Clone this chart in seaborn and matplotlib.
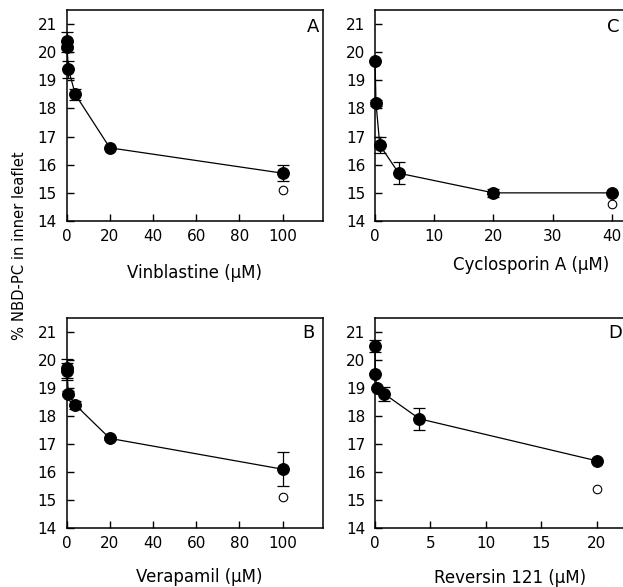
import numpy as np
import pandas as pd
import matplotlib
matplotlib.use("Agg")
import matplotlib.pyplot as plt
import seaborn as sns

# -----------------------------
# data
# -----------------------------
vin_x = [0, 0.16, 0.8, 4, 20, 100]
vin_y = [20.4, 20.2, 19.4, 18.5, 16.6, 15.7]
vin_err = [0.3, 0.2, 0.3, 0.2, 0.0, 0.28]
vin_open_x = [100]
vin_open_y = [15.1]

cyc_x = [0, 0.16, 0.8, 4, 20, 40]
cyc_y = [19.7, 18.2, 16.7, 15.7, 15.0, 15.0]
cyc_err = [0.0, 0.1, 0.3, 0.4, 0.15, 0.0]
cyc_open_x = [40]
cyc_open_y = [14.6]

ver_x = [0, 0.16, 0.8, 4, 20, 100]
ver_y = [19.7, 19.6, 18.8, 18.4, 17.2, 16.1]
ver_err = [0.35, 0.3, 0.1, 0.15, 0.05, 0.6]
ver_open_x = [100]
ver_open_y = [15.1]

rev_x = [0, 0.032, 0.16, 0.8, 4, 20]
rev_y = [20.5, 19.5, 19.0, 18.8, 17.9, 16.4]
rev_err = [0.2, 0.0, 0.0, 0.25, 0.4, 0.0]
rev_open_x = [20]
rev_open_y = [15.4]

sns.set_style("ticks", {"xtick.direction": "in", "ytick.direction": "in",
                        "axes.edgecolor": "black", "text.color": "black",
                        "axes.labelcolor": "black"})
plt.rcParams['font.family'] = ['DejaVu Sans']

fig = plt.figure(figsize=(6.23, 5.87), dpi=100)

panels = [
    # rect, x, y, err, open x, open y, xlim, xticks, xlabel, letter, label pos, letter pos
    ([0.107, 0.6235, 0.4114, 0.3595], vin_x, vin_y, vin_err, vin_open_x, vin_open_y,
     118.7, [0, 20, 40, 60, 80, 100], "Vinblastine (\u03bcM)", "A", (0.5, -0.205), (0.961, 0.919)),
    ([0.602, 0.6235, 0.399, 0.3595], cyc_x, cyc_y, cyc_err, cyc_open_x, cyc_open_y,
     42.0, [0, 10, 20, 30, 40], "Cyclosporin A (\u03bcM)", "C", (0.628, -0.165), (0.958, 0.919)),
    ([0.107, 0.1005, 0.4114, 0.3578], ver_x, ver_y, ver_err, ver_open_x, ver_open_y,
     118.7, [0, 20, 40, 60, 80, 100], "Verapamil (\u03bcM)", "B", (0.517, -0.19), (0.942, 0.929)),
    ([0.602, 0.1005, 0.399, 0.3578], rev_x, rev_y, rev_err, rev_open_x, rev_open_y,
     22.43, [0, 5, 10, 15, 20], "Reversin 121 (\u03bcM)", "D", (0.545, -0.195), (0.966, 0.929)),
]

for rect, x, y, err, ox, oy, xmax, xt, xlab, letter, lpos, tpos in panels:
    ax = fig.add_axes(rect)
    df = pd.DataFrame({"conc": x, "pc": y})

    # error bars (only where there is one)
    e = np.array(err)
    m = e > 0
    ax.errorbar(np.array(x)[m], np.array(y)[m], yerr=e[m], fmt="none",
                ecolor="black", elinewidth=0.9, capsize=4.5, capthick=0.9,
                clip_on=False, zorder=2)

    sns.lineplot(data=df, x="conc", y="pc", ax=ax, color="black", lw=0.9,
                 marker="o", markersize=8.5, markeredgecolor="black",
                 estimator=None, sort=False, clip_on=False, zorder=3)

    sns.scatterplot(x=ox, y=oy, ax=ax, s=38, facecolor="white",
                    edgecolor="black", linewidth=0.8, zorder=3)

    ax.set_xlim(0, xmax)
    ax.set_ylim(14, 21.5)
    ax.set_xticks(xt)
    ax.set_yticks(range(14, 22))
    ax.tick_params(axis="both", direction="in", length=5, width=1,
                   labelsize=11, colors="black")
    ax.tick_params(axis="x", pad=6)
    ax.tick_params(axis="y", pad=7)
    for sp in ax.spines.values():
        sp.set_linewidth(1.1)
        sp.set_visible(True)

    ax.set_xlabel(xlab, fontsize=12, color="black")
    ax.xaxis.set_label_coords(*lpos)
    ax.set_ylabel("")
    ax.text(tpos[0], tpos[1], letter, transform=ax.transAxes, fontsize=13,
            ha="center", va="center", color="black")

fig.text(0.032, 0.581, "% NBD-PC in inner leaflet", rotation=90,
         ha="center", va="center", fontsize=10.6, color="black")

fig.savefig("out.png", dpi=100)
